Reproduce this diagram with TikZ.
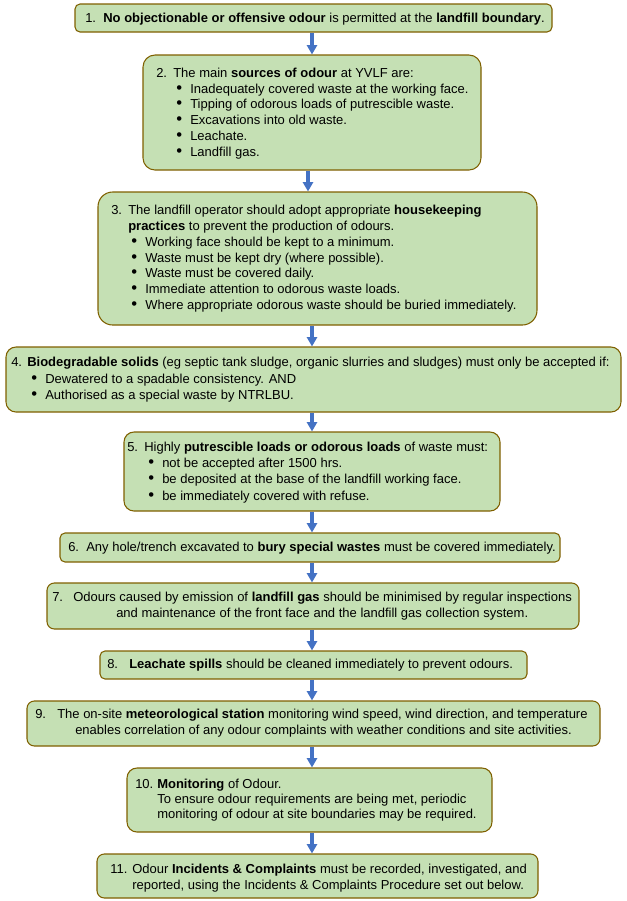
\documentclass[tikz,border=0pt]{standalone}
\usepackage{fontspec}
\setmainfont{Liberation Sans}
\usetikzlibrary{arrows.meta,fit}
\definecolor{boxfill}{HTML}{C5E0B4}
\definecolor{boxline}{HTML}{7F6000}
\definecolor{arrowblue}{HTML}{4472C4}
\newcommand\mytxt[4]{\node[txt] (#1) at (#2,#3) {#4};}
\newcommand\mybul[5]{\node[txt] (#1d) at (#2,#4) {{\fontsize{12.5}{12}\selectfont\textbullet}}; \node[txt] (#1) at (#3,#4) {#5};}
\begin{document}
\begin{tikzpicture}[x=0.75pt,y=-0.75pt,
  font=\fontsize{9.75}{12}\selectfont,
  box/.style={draw=boxline, line width=0.8pt, fill=boxfill, inner sep=0pt},
  txt/.style={anchor=base west, inner sep=0pt},
  arr/.style={draw=arrowblue, line width=2.6pt, -{Triangle[width=7.5pt,length=7pt]}}]
\useasboundingbox (0,0) rectangle (627,901);
% boxes
\node[box, rounded corners=3.75pt, fit={(75,4) (552,32)}] (b1) {};
\node[box, rounded corners=9pt, fit={(143,55) (481,170)}] (b2) {};
\node[box, rounded corners=11pt, fit={(98,192) (537,325)}] (b3) {};
\node[box, rounded corners=7.5pt, fit={(6,347) (621,412)}] (b4) {};
\node[box, rounded corners=7.5pt, fit={(124,432) (500,511)}] (b5) {};
\node[box, rounded corners=3.75pt, fit={(60,533) (560,562)}] (b6) {};
\node[box, rounded corners=5.5pt, fit={(47,583) (579,629)}] (b7) {};
\node[box, rounded corners=3.75pt, fit={(100,651) (527,679)}] (b8) {};
\node[box, rounded corners=5.5pt, fit={(27,701) (600,746)}] (b9) {};
\node[box, rounded corners=7.5pt, fit={(127,768) (492,832)}] (b10) {};
\node[box, rounded corners=5.5pt, fit={(97,854) (538,898)}] (b11) {};
% arrows
\coordinate (ax) at (312,0);
\coordinate (ay) at (308,0);
\draw[arr] (ax |- b1.south) -- (ax |- b2.north);
\draw[arr] (ay |- b2.south) -- (ay |- b3.north);
\draw[arr] (ax |- b3.south) -- (ax |- b4.north);
\draw[arr] (ax |- b4.south) -- (ax |- b5.north);
\draw[arr] (ax |- b5.south) -- (ax |- b6.north);
\draw[arr] (ax |- b6.south) -- (ax |- b7.north);
\draw[arr] (ax |- b7.south) -- (ax |- b8.north);
\draw[arr] (ax |- b8.south) -- (ax |- b9.north);
\draw[arr] (ax |- b9.south) -- (ax |- b10.north);
\draw[arr] (ax |- b10.south) -- (ax |- b11.north);
% text 1
\mytxt{t1}{85}{22}{1.\ \ \textbf{No objectionable or offensive odour} is permitted at the \textbf{landfill boundary}.}
% text 2
\mytxt{t2n}{156}{77}{2.}
\mytxt{t2}{173}{77}{The main \textbf{sources of odour} at YVLF are:}
\mybul{t2a}{176}{190}{93}{Inadequately covered waste at the working face.}
\mybul{t2b}{176}{190}{108}{Tipping of odorous loads of putrescible waste.}
\mybul{t2c}{176}{190}{124}{Excavations into old waste.}
\mybul{t2d}{176}{190}{140}{Leachate.}
\mybul{t2e}{176}{190}{156}{Landfill gas.}
% text 3
\mytxt{t3n}{111}{214}{3.}
\mytxt{t3}{128}{214}{The landfill operator should adopt appropriate \textbf{housekeeping}}
\mytxt{t3x}{128}{230}{\textbf{practices} to prevent the production of odours.}
\mybul{t3a}{131}{145}{246}{Working face should be kept to a minimum.}
\mybul{t3b}{131}{145}{262}{Waste must be kept dry (where possible).}
\mybul{t3c}{131}{145}{277}{Waste must be covered daily.}
\mybul{t3d}{131}{145}{293}{Immediate attention to odorous waste loads.}
\mybul{t3e}{131}{145}{309}{Where appropriate odorous waste should be buried immediately.}
% text 4
\mytxt{t4n}{11}{366}{4.}
\mytxt{t4}{27}{366}{\textbf{Biodegradable solids} (eg septic tank sludge, organic slurries and sludges) must only be accepted if:}
\mybul{t4a}{31}{45}{383}{Dewatered to a spadable consistency. AND}
\mybul{t4b}{31}{45}{399}{Authorised as a special waste by NTRLBU.}
% text 5
\mytxt{t5n}{127}{451}{5.}
\mytxt{t5}{144}{451}{Highly \textbf{putrescible loads or odorous loads} of waste must:}
\mybul{t5a}{148}{162}{467}{not be accepted after 1500 hrs.}
\mybul{t5b}{148}{162}{483}{be deposited at the base of the landfill working face.}
\mybul{t5c}{148}{162}{500}{be immediately covered with refuse.}
% text 6
\mytxt{t6}{68}{551}{6.\ \ Any hole/trench excavated to \textbf{bury special wastes} must be covered immediately.}
% text 7
\mytxt{t7n}{52}{601}{7.}
\mytxt{t7}{73}{601}{Odours caused by emission of \textbf{landfill gas} should be minimised by regular inspections}
\mytxt{t7x}{116}{617}{and maintenance of the front face and the landfill gas collection system.}
% text 8
\mytxt{t8n}{107}{668}{8.}
\mytxt{t8}{129}{668}{\textbf{Leachate spills} should be cleaned immediately to prevent odours.}
% text 9
\mytxt{t9n}{35}{718}{9.}
\mytxt{t9}{57}{718}{The on-site \textbf{meteorological station} monitoring wind speed, wind direction, and temperature}
\mytxt{t9x}{75}{734}{enables correlation of any odour complaints with weather conditions and site activities.}
% text 10
\mytxt{t10n}{135}{788}{10.}
\mytxt{t10}{157}{788}{\textbf{Monitoring} of Odour.}
\mytxt{t10x}{157}{803}{To ensure odour requirements are being met, periodic}
\mytxt{t10y}{157}{818}{monitoring of odour at site boundaries may be required.}
% text 11
\mytxt{t11n}{110}{873}{11.}
\mytxt{t11}{132}{873}{Odour \textbf{Incidents \& Complaints} must be recorded, investigated, and}
\mytxt{t11x}{132}{889}{reported, using the Incidents \& Complaints Procedure set out below.}
\end{tikzpicture}
\end{document}
